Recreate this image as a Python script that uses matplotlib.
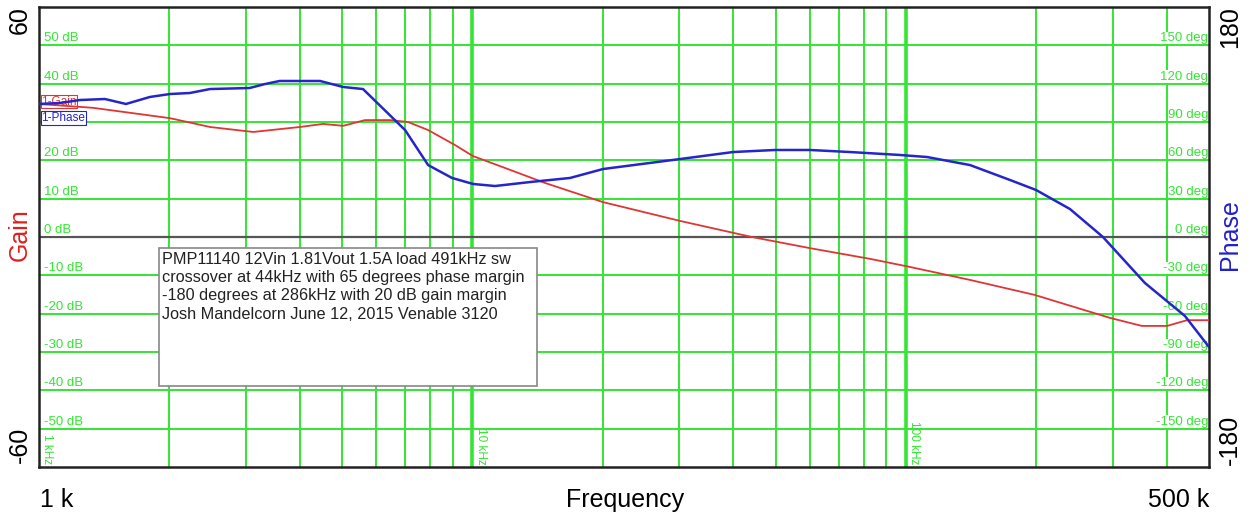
import matplotlib
matplotlib.use('Agg')
import matplotlib.pyplot as plt
from matplotlib.patches import Rectangle

plt.rcParams['font.family'] = ['Liberation Sans', 'DejaVu Sans']

# Gain curve (Hz, dB)
gain_freq = [1000, 1332, 1622, 2005, 2480, 3120, 4000, 4520, 5030, 5650, 6450, 7100,
             7900, 9110, 10030, 11570, 14700, 20000, 30100, 44100, 60000, 82600,
             102000, 140500, 198000, 245000, 295500, 350000, 400000, 445000, 500000]
gain_db = [34.7, 33.7, 32.4, 31.0, 28.7, 27.4, 28.7, 29.5, 29.0, 30.5, 30.5, 30.0,
           27.9, 24.0, 21.1, 18.5, 14.1, 9.1, 4.2, 0.0, -2.9, -5.7,
           -7.8, -11.2, -15.1, -18.3, -21.1, -23.2, -23.2, -21.7, -21.7]

# Phase curve (Hz, deg)
phase_freq = [1000, 1118, 1243, 1419, 1587, 1803, 2005, 2229, 2480, 3060, 3320, 3590,
              4450, 5030, 5590, 6990, 7900, 8970, 10030, 11270, 13570, 16790, 20000,
              30100, 39900, 49900, 60000, 74300, 96800, 111800, 140500, 173800,
              199500, 238900, 284700, 355800, 440000, 500000]
phase_deg = [104.1, 104.9, 107.2, 108.0, 104.1, 109.6, 111.9, 112.7, 115.8, 116.6, 119.7, 122.1,
             122.1, 117.4, 115.8, 83.7, 56.3, 46.2, 41.5, 39.9, 43.0, 46.2, 53.2,
             61.0, 66.5, 68.1, 68.1, 66.5, 64.2, 62.6, 56.3, 44.6,
             36.8, 21.9, 0.0, -36.0, -61.8, -86.1]

db_levels = [50, 40, 30, 20, 10, 0, -10, -20, -30, -40, -50]
deg_labels = ['150 deg', '120 deg', '90 deg', '60 deg', '30 deg', '0 deg',
              '-30 deg', '-60 deg', '-90 deg', '-120 deg', '-150 deg']
minor_freqs = [2e3, 3e3, 4e3, 5e3, 6e3, 7e3, 8e3, 9e3,
               2e4, 3e4, 4e4, 5e4, 6e4, 7e4, 8e4, 9e4,
               2e5, 3e5, 4e5]
decade_freqs = [1e4, 1e5]
decade_labels = [(1e3, '1 kHz'), (1e4, '10 kHz'), (1e5, '100 kHz')]

note = ("PMP11140 12Vin 1.81Vout 1.5A load 491kHz sw\n"
        "crossover at 44kHz with 65 degrees phase margin\n"
        "-180 degrees at 286kHz with 20 dB gain margin\n"
        "Josh Mandelcorn June 12, 2015 Venable 3120")

W, H = 1250, 517
fig = plt.figure(figsize=(W / 100, H / 100), dpi=100)
ax = fig.add_axes([39 / W, 1 - 467 / H, 1170 / W, 460 / H])
ax.set_xscale('log')
ax.set_xlim(1000, 500000)
ax.set_ylim(-60, 60)
ax.set_xticks([])
ax.set_yticks([])
ax.xaxis.set_minor_locator(matplotlib.ticker.NullLocator())
for s in ax.spines.values():
    s.set_color('#222222')
    s.set_linewidth(1.8)

green = '#33e633'
for f in minor_freqs:
    ax.axvline(f, color=green, lw=1.4, zorder=1)
for f in decade_freqs:
    ax.axvline(f, color=green, lw=2.6, zorder=1)
for lv in db_levels:
    if lv == 0:
        ax.axhline(0, color='#555555', lw=1.6, zorder=1)
    else:
        ax.axhline(lv, color=green, lw=1.4, zorder=1)

# grid labels (the 30 dB one sits under the legend tags, so it is not drawn)
for lv, dl in zip(db_levels, deg_labels):
    if lv != 30:
        ax.text(1025, lv + 0.3, f'{lv} dB', color=green, fontsize=9.5, ha='left', va='bottom',
                zorder=2, bbox=dict(facecolor='white', edgecolor='none', pad=0.2))
    ax.text(498500, lv + 0.3, dl, color=green, fontsize=9.5, ha='right', va='bottom',
            zorder=2, bbox=dict(facecolor='white', edgecolor='none', pad=0.2))
for f, lab in decade_labels:
    ax.text(f * 1.012, -59.3, lab, color=green, fontsize=8.5, rotation=270,
            ha='left', va='bottom', zorder=2)

ax.plot(gain_freq, gain_db, color='#e03535', lw=1.3, zorder=4)

axp = ax.twinx()
axp.set_ylim(-180, 180)
axp.axis('off')
axp.plot(phase_freq, phase_deg, color='#2525cc', lw=1.8, zorder=4)

# legend tags
ax.text(1012, 35.3, '1-Gain', color='#e03535', fontsize=8.5, ha='left', va='center', zorder=3,
        bbox=dict(facecolor='white', edgecolor='#e03535', pad=0.5, lw=0.8))
ax.text(1012, 31.0, '1-Phase', color='#2525cc', fontsize=8.5, ha='left', va='center', zorder=5,
        bbox=dict(facecolor='white', edgecolor='#2525cc', pad=0.5, lw=0.8))

# annotation box
ax.add_patch(Rectangle((120 / 1170, 81 / 460), 378 / 1170, 138 / 460, transform=ax.transAxes,
                       facecolor='white', edgecolor='#888888', lw=1.2, zorder=6))
ax.text(123 / 1170, 215 / 460, note, transform=ax.transAxes, fontsize=11.7, ha='left', va='top',
        linespacing=1.27, color='#222222', zorder=7)

# outer labels
def ftxt(x, y, s, **kw):
    fig.text(x / W, 1 - y / H, s, fontsize=18, **kw)

ftxt(20, 20, '60', rotation=90, ha='center', va='center')
ftxt(20, 445, '-60', rotation=90, ha='center', va='center')
ftxt(20, 235, 'Gain', rotation=90, ha='center', va='center', color='#dd2020')
ftxt(1230, 27, '180', rotation=90, ha='center', va='center')
ftxt(1230, 235, 'Phase', rotation=90, ha='center', va='center', color='#2020cc')
ftxt(1230, 440, '-180', rotation=90, ha='center', va='center')
ftxt(40, 500, '1 k', ha='left', va='center')
ftxt(625, 500, 'Frequency', ha='center', va='center')
ftxt(1209, 500, '500 k', ha='right', va='center')

fig.savefig('out.png', dpi=100, facecolor='white')
